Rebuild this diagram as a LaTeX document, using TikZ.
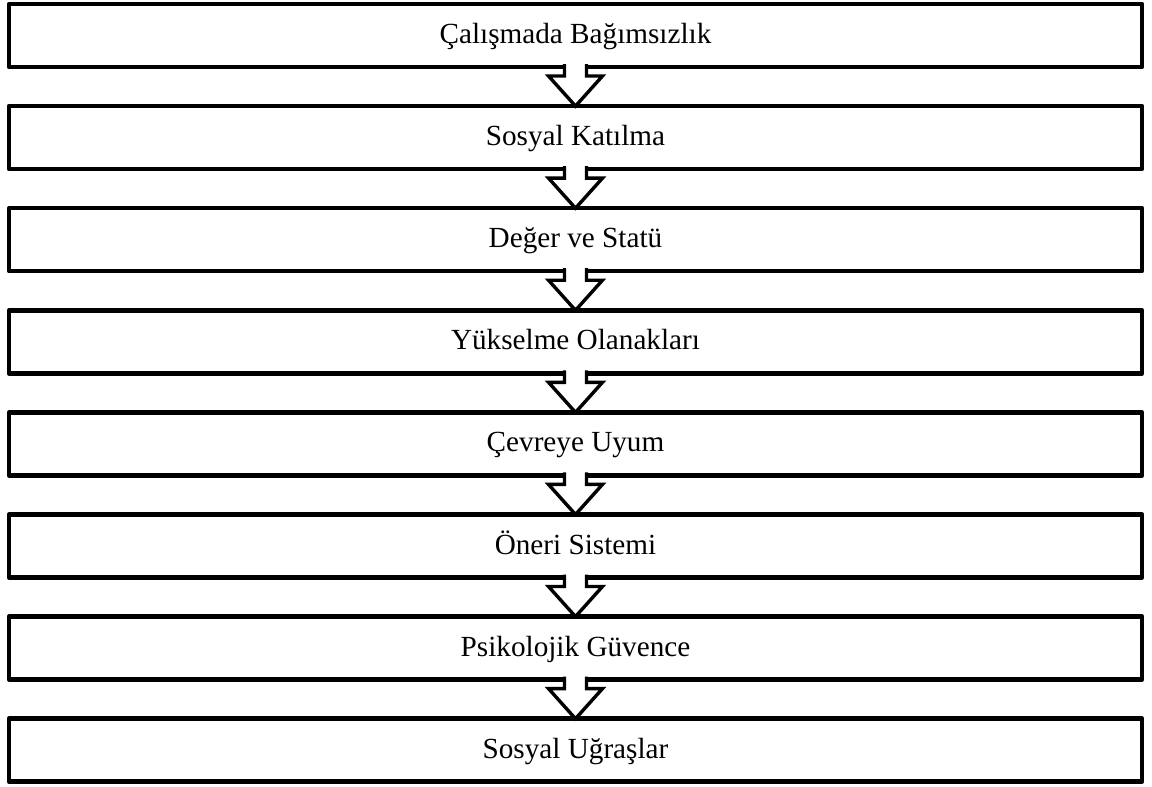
\documentclass[tikz,border=0pt]{standalone}
\usepackage{fontspec}
\setmainfont{Liberation Serif}
\usetikzlibrary{calc}
\begin{document}
\begin{tikzpicture}[x=0.5pt,y=-0.5pt,
  stagebox/.style={draw=black, line width=2.25pt, line join=round, fill=white,
    rectangle, inner sep=0pt, outer sep=0pt,
    minimum width=566.5pt, minimum height=31.5pt,
    text height=10pt, text depth=2pt,
    font=\fontsize{14.6}{17}\selectfont},
  blockarrow/.style={draw=black, fill=white, line width=1.7pt, line join=miter}]
\useasboundingbox (0,0) rectangle (1152,787);
\foreach \t [count=\i from 0] in {Çalışmada Bağımsızlık, Sosyal Katılma, Değer ve Statü,
    Yükselme Olanakları, Çevreye Uyum, Öneri Sistemi, Psikolojik Güvence, Sosyal Uğraşlar}
  \node[stagebox] (b\i) at (575.5, {35.5+102.1*\i}) {\t};
\foreach \i [evaluate=\i as \j using int(\i+1)] in {0,...,6}
  \draw[blockarrow] ($(b\i.south)+(-11,-3)$) -- ++(0,12) -- ++(-16,0) -- (b\j.north)
    -- ($(b\i.south)+(27,9)$) -- ++(-16,0) -- ++(0,-12);
\end{tikzpicture}
\end{document}
